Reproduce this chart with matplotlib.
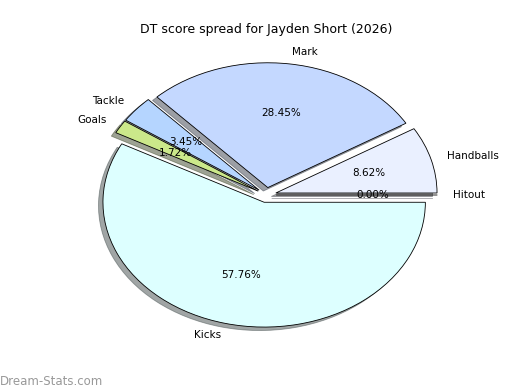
import matplotlib
matplotlib.use('Agg')
import matplotlib.pyplot as plt

labels = ['Hitout', 'Handballs', 'Mark', 'Tackle', 'Goals', 'Kicks']
values = [0.0, 8.62, 28.45, 3.45, 1.72, 57.76]
colors = ['#d9d9ff', '#eaf0ff', '#c4d8ff', '#b5d5ff', '#cbe88a', '#ddffff']
explode = [0.06] * len(values)

fig = plt.figure(figsize=(5.2, 3.9), dpi=100)
ax = fig.add_axes([0.125, 0.10, 0.775, 0.80])

wedges, texts, autotexts = ax.pie(
    values, labels=labels, colors=colors, explode=explode,
    autopct='%1.2f%%', shadow=True, startangle=0,
    wedgeprops={'edgecolor': 'black', 'linewidth': 0.6},
    textprops={'fontsize': 7.5},
)
ax.set_aspect('auto')
ax.set_title('DT score spread for Jayden Short (2026)', fontsize=9, pad=4)

# watermark
fig.text(0.0, 0.012, 'Dream-Stats.com', fontsize=8.5, color='#999999')

plt.savefig('out.png')
